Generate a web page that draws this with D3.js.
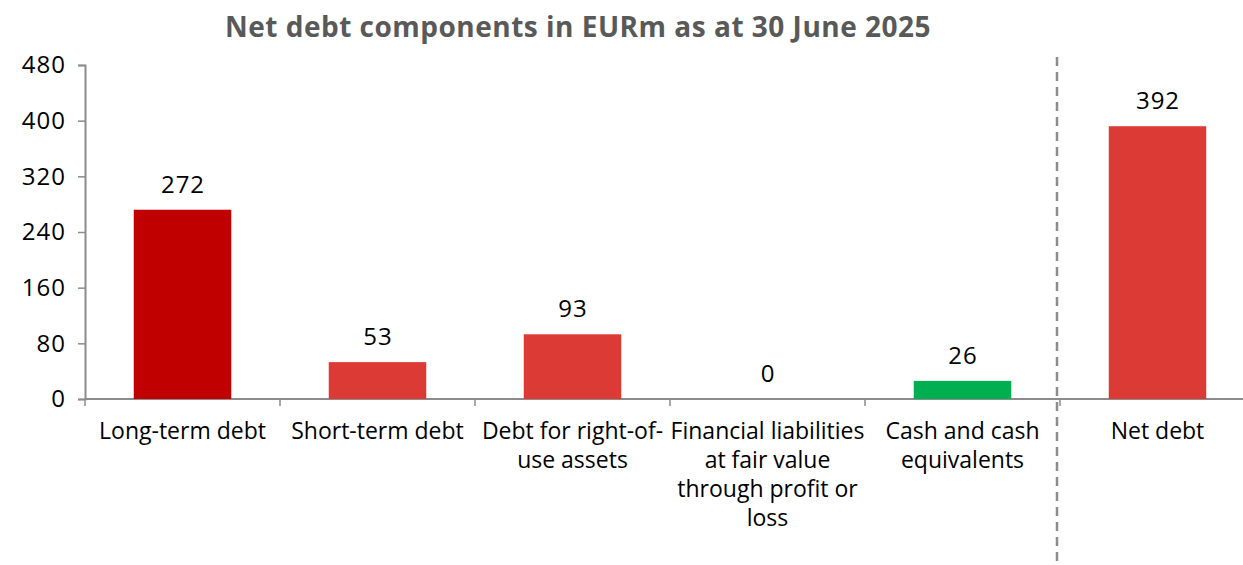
<!DOCTYPE html>
<html lang="en">
<head>
<meta charset="UTF-8">
<title>Net debt components</title>
<script src="https://d3js.org/d3.v7.min.js"></script>
<style>
  body { margin: 0; background: #fff; }
  text { font-family: "Open Sans", "Noto Sans", sans-serif; }
</style>
</head>
<body>
<div id="chart"></div>
<script>
// data
const categories = ["Long-term debt", "Short-term debt", "Debt for right-of-use assets",
  "Financial liabilities at fair value through profit or loss", "Cash and cash equivalents", "Net debt"];
const labelLines = [["Long-term debt"], ["Short-term debt"], ["Debt for right-of-", "use assets"],
  ["Financial liabilities", "at fair value", "through profit or", "loss"], ["Cash and cash", "equivalents"], ["Net debt"]];
const values = [272, 53, 93, 0, 26, 392];
const barColors = ["#c00000", "#dc3a34", "#dc3a34", "#dc3a34", "#00b050", "#dc3a34"];
const yTicks = [0, 80, 160, 240, 320, 400, 480];

const width = 1243, height = 565;
const svg = d3.select("#chart").append("svg")
  .attr("width", width).attr("height", height);

const x = d3.scaleBand().domain(categories).range([85, 1255]).paddingInner(0.5).paddingOuter(0.25);
const y = d3.scaleLinear().domain([0, 480]).range([399, 65]);
const gap = x.step() - x.bandwidth();

// title
svg.append("text")
  .attr("x", 578).attr("y", 37)
  .attr("text-anchor", "middle")
  .style("font-size", "28px").style("font-weight", "bold")
  .style("letter-spacing", "0.5px")
  .style("fill", "#595959")
  .text("Net debt components in EURm as at 30 June 2025");

// y axis
const yAxis = svg.append("g")
  .attr("transform", "translate(85,0)")
  .call(d3.axisLeft(y).tickValues(yTicks).tickSize(7).tickPadding(12));
yAxis.select(".domain").attr("stroke", "#8c8c8c").attr("stroke-width", 2);
yAxis.selectAll(".tick line").attr("stroke", "#8c8c8c").attr("stroke-width", 1.5);
yAxis.selectAll(".tick text").style("font-size", "24px").style("letter-spacing", "1px").style("fill", "#000");

// x axis line + band separators
svg.append("line")
  .attr("x1", 85).attr("x2", width)
  .attr("y1", y(0)).attr("y2", y(0))
  .attr("stroke", "#8c8c8c").attr("stroke-width", 2);
svg.selectAll(".sep")
  .data(categories)
  .join("line")
  .attr("x1", d => x(d) - gap / 2)
  .attr("x2", d => x(d) - gap / 2)
  .attr("y1", y(0)).attr("y2", y(0) + 7)
  .attr("stroke", "#8c8c8c").attr("stroke-width", 1.5);

// bars
svg.selectAll(".bar")
  .data(values)
  .join("rect")
  .attr("x", (d, i) => x(categories[i]))
  .attr("width", x.bandwidth())
  .attr("y", d => y(d))
  .attr("height", d => y(0) - y(d))
  .attr("fill", (d, i) => barColors[i]);

// value labels
svg.selectAll(".val")
  .data(values)
  .join("text")
  .attr("x", (d, i) => x(categories[i]) + x.bandwidth() / 2 + 0.5)
  .attr("y", d => y(d) - 17)
  .attr("text-anchor", "middle")
  .style("font-size", "24px").style("letter-spacing", "1px").style("fill", "#000")
  .text(d => d);

// category labels
categories.forEach((c, i) => {
  const cx = x(c) + x.bandwidth() / 2;
  const t = svg.append("text")
    .attr("x", cx).attr("y", 439)
    .attr("text-anchor", "middle")
    .style("font-size", "23px").style("fill", "#000");
  labelLines[i].forEach((ln, j) => {
    t.append("tspan").attr("x", cx).attr("dy", j ? 29 : 0).text(ln);
  });
});

// divider before net debt
const divX = x(categories[5]) - gap / 2 - 3;
svg.append("line")
  .attr("x1", divX).attr("x2", divX)
  .attr("y1", 57).attr("y2", height)
  .attr("stroke", "#8c8c8c").attr("stroke-width", 2.5)
  .attr("stroke-dasharray", "9,6");
</script>
</body>
</html>
